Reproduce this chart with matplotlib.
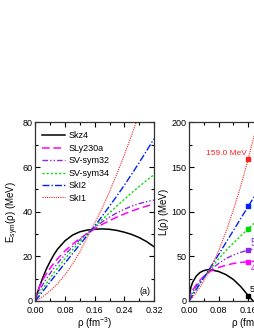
import numpy as np
import matplotlib
matplotlib.use("Agg")
import matplotlib.pyplot as plt
from matplotlib.ticker import MultipleLocator

plt.rcParams['font.family'] = ['Liberation Sans', 'DejaVu Sans']
plt.rcParams['mathtext.fontset'] = 'custom'
plt.rcParams['mathtext.rm'] = 'Liberation Sans'
plt.rcParams['mathtext.it'] = 'Liberation Sans'

# density grid (fm^-3)
rho = [0, 0.005, 0.01, 0.02, 0.03, 0.04, 0.05, 0.06, 0.08, 0.10, 0.12,
       0.14, 0.16, 0.18, 0.20, 0.22, 0.24, 0.26, 0.28, 0.30, 0.32]

names = ["Skz4", "SLy230a", "SV-sym32", "SV-sym34", "SkI2", "SkI1"]

# symmetry energy Esym(rho) in MeV
esym_skz4 = [0, 3.5, 6.0, 10.5, 14.5, 17.8, 20.8, 23.3, 27.0, 29.5, 31.0,
             31.8, 32.1, 32.3, 32.1, 31.6, 30.8, 29.8, 28.4, 26.6, 24.3]
esym_sly230a = [0, 3.8, 6.0, 9.5, 12.3, 14.8, 17.0, 19.0, 22.5, 25.4, 28.0,
                30.3, 32.3, 34.3, 36.0, 37.6, 39.0, 40.3, 41.5, 42.5, 43.4]
esym_svsym32 = [0, 2.7, 4.4, 7.4, 10.0, 12.5, 14.8, 16.9, 20.8, 24.3, 27.5,
                30.4, 33.0, 35.4, 37.6, 39.5, 41.1, 42.5, 43.6, 44.5, 45.2]
esym_svsym34 = [0, 1.8, 3.2, 5.6, 8.0, 10.3, 12.6, 14.8, 19.0, 22.9, 26.6,
                30.0, 33.2, 36.4, 39.5, 42.6, 45.6, 48.5, 51.3, 54.0, 56.6]
esym_ski2 = [0, 1.1, 2.2, 4.3, 6.5, 8.6, 10.7, 12.8, 17.0, 21.2, 25.3,
             29.4, 33.6, 38.0, 42.5, 47.1, 51.9, 56.9, 62.0, 67.3, 72.7]
esym_ski1 = [0, 0.4, 0.9, 2.0, 3.2, 4.6, 6.1, 7.8, 11.8, 16.5, 22.0,
             28.6, 35.0, 41.6, 49.0, 57.0, 65.5, 74.5, 84.0, 94.0, 104.5]

# slope L(rho) in MeV
l_skz4 = [0, 15, 21, 28, 32, 34, 35, 34.8, 33, 29.5, 24,
          16, 6, -3, -14, -27, -41, -56, -72, -89, -107]
l_sly230a = [0, 7.5, 12, 18.5, 23.5, 27.5, 31, 33.8, 37.5, 40, 42,
             43.2, 44, 44.5, 44.8, 44.8, 44.5, 44, 43.3, 42.5, 41.5]
l_svsym32 = [0, 6, 10, 16.5, 22, 27, 31.5, 35.5, 42, 47.5, 51.5,
             54.5, 57, 58.8, 60, 60.8, 61.2, 61.3, 61.2, 61, 60.5]
l_svsym34 = [0, 4.5, 8, 14.5, 20.5, 26.5, 32, 37, 47, 56.5, 65,
             73, 81, 88.5, 95.5, 102, 108, 114, 119.5, 125, 130]
l_ski2 = [0, 3, 6.5, 13, 19.5, 26, 32.5, 39, 52, 65.5, 79,
          92.5, 106, 119.5, 133, 146.5, 160, 173.5, 187, 200.5, 214]
l_ski1 = [0, 2, 4.2, 9.7, 15.7, 22.4, 29.8, 37.9, 56.3, 77.6, 102,
          129, 159, 192, 228, 266, 308, 352, 400, 450, 503]

# L at saturation density (rho0 = 0.16)
rho0 = 0.16
l0_vals = [5.8, 44.0, 57.0, 81.0, 106.0, 159.0]
l0_text = ["5.8 MeV", "44.3 MeV", "57.1 MeV", None, None, "159.0 MeV"]

colors = ["black", "#ff00ff", "#8a2be2", "#00dd00", "#0022ff", "#ff2020"]
styles = ["-", (0, (5, 2.5)), (0, (4, 1.5, 1, 1.5, 1, 1.5)), (0, (1.5, 1.5)),
          (0, (5, 1.5, 1, 1.5)), (0, (1, 1))]
widths = [1.1, 1.1, 1.0, 1.0, 1.0, 0.8]

esym_all = [esym_skz4, esym_sly230a, esym_svsym32, esym_svsym34, esym_ski2, esym_ski1]
l_all = [l_skz4, l_sly230a, l_svsym32, l_svsym34, l_ski2, l_ski1]

fig = plt.figure(figsize=(2.55, 3.3), dpi=100)
ax1 = fig.add_axes([0.139, 0.088, 0.465, 0.541])
ax2 = fig.add_axes([0.741, 0.088, 0.465, 0.541])

for i in range(6):
    ax1.plot(rho, esym_all[i], color=colors[i], ls=styles[i], lw=widths[i], label=names[i])
    ax2.plot(rho, l_all[i], color=colors[i], ls=styles[i], lw=widths[i])
    ax2.plot([rho0], [l0_vals[i]], marker='s', ms=3.5, color=colors[i], ls='none')

ax1.set_xlim(0, 0.32)
ax1.set_ylim(0, 80)
ax2.set_xlim(0, 0.32)
ax2.set_ylim(0, 200)

ax1.xaxis.set_major_locator(MultipleLocator(0.08))
ax1.xaxis.set_minor_locator(MultipleLocator(0.04))
ax1.yaxis.set_major_locator(MultipleLocator(20))
ax1.yaxis.set_minor_locator(MultipleLocator(10))
ax2.xaxis.set_major_locator(MultipleLocator(0.08))
ax2.xaxis.set_minor_locator(MultipleLocator(0.04))
ax2.yaxis.set_major_locator(MultipleLocator(50))
ax2.yaxis.set_minor_locator(MultipleLocator(25))

for ax in (ax1, ax2):
    ax.tick_params(which='both', direction='in', top=True, right=True, labelsize=6.5)
    ax.tick_params(axis='x', which='major', pad=3.5)
    ax.tick_params(axis='y', which='major', pad=2)
    ax.tick_params(which='major', length=3.5, width=0.8)
    ax.tick_params(which='minor', length=2, width=0.8)
    ax.xaxis.set_major_formatter(plt.FormatStrFormatter('%.2f'))
    for s in ax.spines.values():
        s.set_linewidth(0.9)
        s.set_color('#333333')

ax1.set_xlabel(r'$\rho$ (fm$^{-3}$)', fontsize=7, labelpad=0)
ax1.set_ylabel(r'E$_{\rm sym}$($\rho$) (MeV)', fontsize=7, labelpad=1)
ax2.set_xlabel(r'$\rho$ (fm$^{-3}$)', fontsize=7, labelpad=0)
ax2.set_ylabel(r'L($\rho$) (MeV)', fontsize=7, labelpad=0)

ax1.legend(loc='upper left', frameon=False, fontsize=6.5, handlelength=2.6,
           handletextpad=0.4, labelspacing=0.38, borderaxespad=0.3,
           bbox_to_anchor=(0.0, 0.985))
ax1.text(0.97, 0.03, '(a)', transform=ax1.transAxes, ha='right', va='bottom', fontsize=6.5)

# value labels at rho0
ax2.text(rho0 - 0.004, l0_vals[5] + 2, l0_text[5], color=colors[5], fontsize=6,
         ha='right', va='bottom')
ax2.text(rho0 + 0.008, l0_vals[2] + 2, l0_text[2], color=colors[2], fontsize=7,
         ha='left', va='bottom')
ax2.text(rho0 + 0.008, l0_vals[1] - 3, l0_text[1], color=colors[1], fontsize=7,
         ha='left', va='top')
ax2.text(rho0 + 0.004, l0_vals[0] + 2, l0_text[0], color=colors[0], fontsize=6.5,
         ha='left', va='bottom')

fig.savefig("out.png", dpi=100)
